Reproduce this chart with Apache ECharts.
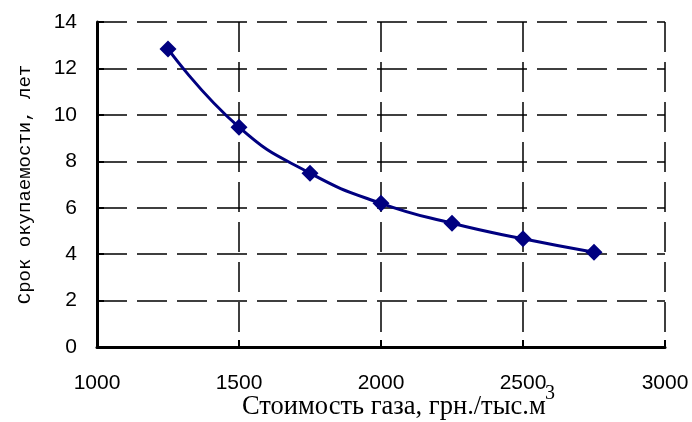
<!DOCTYPE html>
<html><head><meta charset="utf-8">
<script src="https://cdn.jsdelivr.net/npm/echarts@6/dist/echarts.min.js"></script>
<style>html,body{margin:0;padding:0;background:#fff}#c{width:692px;height:422px}</style>
</head><body><div id="c"></div>
<script>
const gasCost = [1250, 1500, 1750, 2000, 2250, 2500, 2750];
const payback = [12.84, 9.47, 7.49, 6.19, 5.33, 4.66, 4.08];
const xTicks = [1000, 1500, 2000, 2500, 3000];
const yTicks = [0, 2, 4, 6, 8, 10, 12, 14];
const xTitle = 'Стоимость газа, грн./тыс.м';
const xTitleSup = '3';
const yTitle = 'Срок окупаемости, лет';

const chart = echarts.init(document.getElementById('c'), null, {renderer: 'canvas'});
const dash = {color: '#000', width: 1.5, type: [30, 10]};
chart.setOption({
  animation: false,
  backgroundColor: '#fff',
  grid: {left: 97, right: 27, top: 22, bottom: 75},
  xAxis: {
    type: 'value', min: xTicks[0], max: xTicks[xTicks.length - 1], interval: 500,
    axisLine: {show: true, lineStyle: {color: '#000', width: 3}},
    axisTick: {show: true, inside: true, length: 7, lineStyle: {color: '#000', width: 2}},
    axisLabel: {margin: 26, color: '#000', fontSize: 21, fontFamily: '"Liberation Sans", Arial, sans-serif',
      showMinLabel: true, showMaxLabel: true, formatter: v => String(v)},
    splitLine: {show: true, lineStyle: dash}
  },
  yAxis: {
    type: 'value', min: yTicks[0], max: yTicks[yTicks.length - 1], interval: 2,
    name: yTitle, nameLocation: 'middle', nameGap: 63,
    nameTextStyle: {color: '#000', fontSize: 19, fontFamily: '"Liberation Mono", "Courier New", monospace'},
    axisLine: {show: true, lineStyle: {color: '#000', width: 3}},
    axisTick: {show: true, inside: true, length: 7, lineStyle: {color: '#000', width: 2}},
    axisLabel: {margin: 20, color: '#000', fontSize: 21, fontFamily: '"Liberation Sans", Arial, sans-serif',
      formatter: v => String(v)},
    splitLine: {show: true, lineStyle: dash}
  },
  graphic: [
    {type: 'text', left: 242, top: 394, style: {text: xTitle, fill: '#000', font: '26.5px "Liberation Serif", serif'}},
    {type: 'text', left: 545, top: 384, style: {text: xTitleSup, fill: '#000', font: '20px "Liberation Serif", serif'}}
  ],
  series: [{
    type: 'line', smooth: true,
    data: gasCost.map((x, i) => [x, payback[i]]),
    symbol: 'diamond', symbolSize: 17,
    lineStyle: {color: '#000080', width: 3},
    itemStyle: {color: '#000080'}
  }]
});
</script></body></html>
